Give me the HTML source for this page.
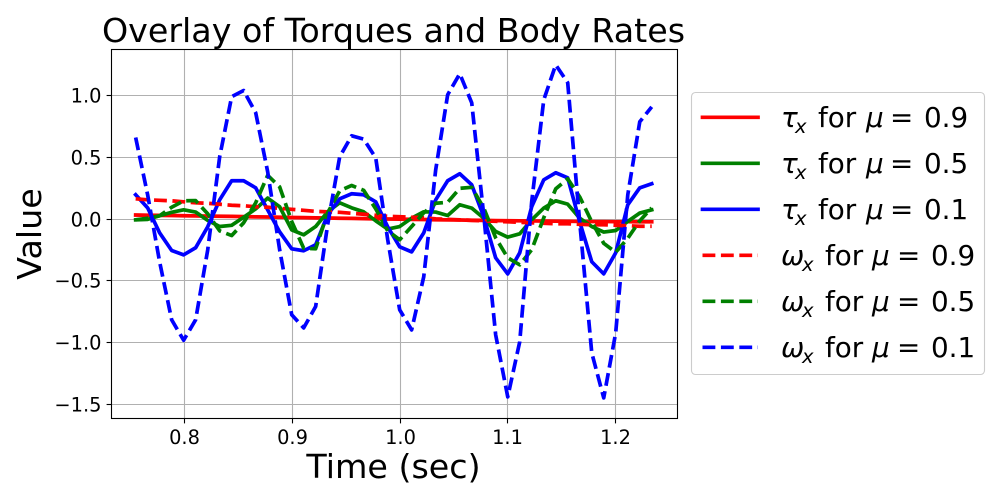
<!DOCTYPE html>
<html lang="en">
<head>
<meta charset="utf-8">
<title>Overlay of Torques and Body Rates</title>
<style>
html,body{margin:0;padding:0;background:#fff;width:1000px;height:500px;overflow:hidden}
svg{display:block}
text{font-family:"DejaVu Sans","Liberation Sans",sans-serif;fill:#000}
</style>
</head>
<body>
<svg id="chart" xmlns="http://www.w3.org/2000/svg" width="1000" height="500" viewBox="0 0 1000 500">
  <defs><clipPath id="plot-clip"><rect x="111.5" y="49.5" width="566" height="369"/></clipPath></defs>
  <rect x="0" y="0" width="1000" height="500" fill="#fff"/>
  <g id="grid"></g>
  <g id="series" clip-path="url(#plot-clip)"></g>
  <rect x="111.5" y="49.5" width="566" height="369" fill="none" stroke="#000" stroke-width="1.1"/>
  <g id="ticks"></g>
  <text x="393.5" y="42" font-size="33.3" text-anchor="middle">Overlay of Torques and Body Rates</text>
  <text x="393.5" y="478" font-size="33.3" text-anchor="middle">Time (sec)</text>
  <text x="0" y="0" font-size="33.3" text-anchor="middle" transform="translate(41 234) rotate(-90)">Value</text>

  <g>
    <rect x="691.5" y="92.5" width="293" height="282" rx="4" ry="4" fill="#fff" fill-opacity="0.8" stroke="#cccccc" stroke-width="1.1"/>

    <g>
      <line x1="702.5" x2="758" y1="117.3" y2="117.3" stroke="#ff0000" stroke-width="3.7" stroke-linecap="square"/>
      <text y="127" font-size="27.8"><tspan x="781" font-style="italic">τ</tspan><tspan x="795" dy="6" font-size="19.5" font-style="italic">x</tspan><tspan x="818" dy="-6">for</tspan><tspan x="866" font-style="italic">μ</tspan><tspan x="890">=</tspan><tspan x="924">0.9</tspan></text>
    </g>
    <g>
      <line x1="702.5" x2="758" y1="163.3" y2="163.3" stroke="#008000" stroke-width="3.7" stroke-linecap="square"/>
      <text y="173" font-size="27.8"><tspan x="781" font-style="italic">τ</tspan><tspan x="795" dy="6" font-size="19.5" font-style="italic">x</tspan><tspan x="818" dy="-6">for</tspan><tspan x="866" font-style="italic">μ</tspan><tspan x="890">=</tspan><tspan x="924">0.5</tspan></text>
    </g>
    <g>
      <line x1="702.5" x2="758" y1="209.3" y2="209.3" stroke="#0000ff" stroke-width="3.7" stroke-linecap="square"/>
      <text y="219" font-size="27.8"><tspan x="781" font-style="italic">τ</tspan><tspan x="795" dy="6" font-size="19.5" font-style="italic">x</tspan><tspan x="818" dy="-6">for</tspan><tspan x="866" font-style="italic">μ</tspan><tspan x="890">=</tspan><tspan x="924">0.1</tspan></text>
    </g>
    <g>
      <line x1="702.5" x2="758" y1="255.3" y2="255.3" stroke="#ff0000" stroke-width="3.7" stroke-dasharray="12.85 5.56"/>
      <text y="265" font-size="27.8"><tspan x="781" font-style="italic">ω</tspan><tspan x="802" dy="6" font-size="19.5" font-style="italic">x</tspan><tspan x="825" dy="-6">for</tspan><tspan x="872" font-style="italic">μ</tspan><tspan x="897">=</tspan><tspan x="931">0.9</tspan></text>
    </g>
    <g>
      <line x1="702.5" x2="758" y1="301.3" y2="301.3" stroke="#008000" stroke-width="3.7" stroke-dasharray="12.85 5.56"/>
      <text y="311" font-size="27.8"><tspan x="781" font-style="italic">ω</tspan><tspan x="802" dy="6" font-size="19.5" font-style="italic">x</tspan><tspan x="825" dy="-6">for</tspan><tspan x="872" font-style="italic">μ</tspan><tspan x="897">=</tspan><tspan x="931">0.5</tspan></text>
    </g>
    <g>
      <line x1="702.5" x2="758" y1="347.3" y2="347.3" stroke="#0000ff" stroke-width="3.7" stroke-dasharray="12.85 5.56"/>
      <text y="357" font-size="27.8"><tspan x="781" font-style="italic">ω</tspan><tspan x="802" dy="6" font-size="19.5" font-style="italic">x</tspan><tspan x="825" dy="-6">for</tspan><tspan x="872" font-style="italic">μ</tspan><tspan x="897">=</tspan><tspan x="931">0.1</tspan></text>
    </g>
  </g>
</svg>
<script>
const timeValues = [0.7549,0.7660,0.7771,0.7883,0.7994,0.8105,0.8217,0.8328,0.8439,0.8550,0.8662,0.8773,0.8884,0.8996,0.9107,0.9218,0.9329,0.9441,0.9552,0.9663,0.9775,0.9886,0.9997,1.0108,1.0220,1.0331,1.0442,1.0554,1.0665,1.0776,1.0887,1.0999,1.1110,1.1221,1.1333,1.1444,1.1555,1.1666,1.1778,1.1889,1.2000,1.2112,1.2223,1.2334];
const tauMu09 = [0.033,0.031,0.03,0.029,0.027,0.026,0.024,0.023,0.022,0.02,0.018,0.017,0.015,0.013,0.012,0.01,0.009,0.007,0.006,0.004,0.002,0.001,0,-0.002,-0.003,-0.005,-0.006,-0.007,-0.009,-0.01,-0.012,-0.013,-0.014,-0.015,-0.016,-0.017,-0.018,-0.019,-0.02,-0.02,-0.021,-0.021,-0.022,-0.022];
const tauMu05 = [-0.006,-0.002,0.027,0.055,0.075,0.057,-0.01,-0.06,-0.05,0.015,0.083,0.17,0.1,-0.087,-0.127,-0.06,0.059,0.132,0.091,0.059,-0.014,-0.081,-0.06,0.008,0.059,0.057,0.029,0.116,0.089,0.008,-0.1,-0.146,-0.119,-0.006,0.089,0.148,0.121,0.008,-0.06,-0.105,-0.092,-0.019,0.049,0.075];
const tauMu01 = [0.197,0.091,-0.111,-0.254,-0.289,-0.232,-0.062,0.156,0.31,0.31,0.253,0.075,-0.103,-0.24,-0.256,-0.208,0.035,0.164,0.205,0.197,0.14,-0.062,-0.224,-0.265,-0.111,0.156,0.31,0.367,0.278,0.019,-0.313,-0.443,-0.273,0.1,0.318,0.375,0.334,-0.022,-0.345,-0.443,-0.273,0.116,0.253,0.286];
const omegaMu09 = [0.164,0.156,0.152,0.148,0.14,0.132,0.128,0.12,0.112,0.108,0.1,0.096,0.087,0.079,0.071,0.063,0.059,0.055,0.047,0.039,0.031,0.023,0.019,0.015,0.011,0.002,-0.002,-0.006,-0.01,-0.014,-0.018,-0.022,-0.026,-0.03,-0.034,-0.038,-0.038,-0.042,-0.046,-0.046,-0.05,-0.054,-0.058,-0.058];
const omegaMu05 = [-0.006,0.007,0.027,0.096,0.148,0.15,0.043,-0.095,-0.133,-0.03,0.132,0.354,0.261,-0.019,-0.236,-0.24,0.051,0.229,0.272,0.233,0.083,-0.095,-0.167,-0.06,0.051,0.128,0.136,0.249,0.257,0.091,-0.151,-0.313,-0.37,-0.248,0.011,0.245,0.326,0.18,-0.022,-0.196,-0.269,-0.155,-0.014,0.091];
const omegaMu01 = [0.66,0.197,-0.345,-0.815,-0.98,-0.815,-0.25,0.504,0.99,1.04,0.86,0.383,-0.248,-0.774,-0.88,-0.707,-0.046,0.504,0.674,0.647,0.496,-0.167,-0.734,-0.896,-0.467,0.399,1.006,1.176,0.941,0.035,-0.936,-1.438,-0.993,0.14,0.965,1.248,1.103,-0.022,-1.082,-1.446,-0.92,0.197,0.787,0.908];
const xTickValues = [0.8,0.9,1.0,1.1,1.2];
const xTickLabels = ["0.8","0.9","1.0","1.1","1.2"];
const yTickValues = [1.0,0.5,0,-0.5,-1.0,-1.5];
const yTickLabels = ["1.0","0.5","0.0","\u22120.5","\u22121.0","\u22121.5"];

const NS = 'http://www.w3.org/2000/svg';
const plotLeft = 111.5, plotRight = 677.5, plotTop = 49.5, plotBottom = 418.5;
const xDomain = [0.7325, 1.2573];
const yDomain = [-1.613, 1.372];
function xScale(v){ return plotLeft + (v - xDomain[0]) / (xDomain[1] - xDomain[0]) * (plotRight - plotLeft); }
function yScale(v){ return plotBottom - (v - yDomain[0]) / (yDomain[1] - yDomain[0]) * (plotBottom - plotTop); }
function snap(p){ return Math.floor(p) + 0.5; }

const gridLayer = document.getElementById('grid');
const tickLayer = document.getElementById('ticks');
const seriesLayer = document.getElementById('series');

xTickValues.forEach(function(v, i){
  const px = snap(xScale(v));
  const g = document.createElementNS(NS, 'line');
  
  
  g.setAttribute('x1', px); g.setAttribute('x2', px);
  g.setAttribute('y1', plotTop); g.setAttribute('y2', plotBottom);
  g.setAttribute('stroke', '#b0b0b0'); g.setAttribute('stroke-width', '1.1');
  gridLayer.appendChild(g);
  const t = document.createElementNS(NS, 'line');
  
  
  t.setAttribute('x1', px); t.setAttribute('x2', px);
  t.setAttribute('y1', plotBottom); t.setAttribute('y2', plotBottom + 4.9);
  t.setAttribute('stroke', '#000'); t.setAttribute('stroke-width', '1.1');
  tickLayer.appendChild(t);
  const l = document.createElementNS(NS, 'text');
  
  
  l.setAttribute('x', px); l.setAttribute('y', 444);
  l.setAttribute('font-size', '19.4'); l.setAttribute('text-anchor', 'middle');
  l.textContent = xTickLabels[i];
  tickLayer.appendChild(l);
});

yTickValues.forEach(function(v, i){
  const py = snap(yScale(v));
  const g = document.createElementNS(NS, 'line');
  
  
  g.setAttribute('x1', plotLeft); g.setAttribute('x2', plotRight);
  g.setAttribute('y1', py); g.setAttribute('y2', py);
  g.setAttribute('stroke', '#b0b0b0'); g.setAttribute('stroke-width', '1.1');
  gridLayer.appendChild(g);
  const t = document.createElementNS(NS, 'line');
  
  
  t.setAttribute('x1', plotLeft - 4.9); t.setAttribute('x2', plotLeft);
  t.setAttribute('y1', py); t.setAttribute('y2', py);
  t.setAttribute('stroke', '#000'); t.setAttribute('stroke-width', '1.1');
  tickLayer.appendChild(t);
  const l = document.createElementNS(NS, 'text');
  
  
  l.setAttribute('x', 101.5); l.setAttribute('y', py + 7);
  l.setAttribute('font-size', '19.4'); l.setAttribute('text-anchor', 'end');
  l.textContent = yTickLabels[i];
  tickLayer.appendChild(l);
});

function drawSeries(values, color, dashed, seriesName){
  const d = values.map(function(v, i){
    return (i ? 'L' : 'M') + xScale(timeValues[i]).toFixed(2) + ' ' + yScale(v).toFixed(2);
  }).join(' ');
  const p = document.createElementNS(NS, 'path');
  
  
  p.setAttribute('d', d);
  p.setAttribute('fill', 'none');
  p.setAttribute('stroke', color);
  p.setAttribute('stroke-width', '3.7');
  p.setAttribute('stroke-linejoin', 'round');
  p.setAttribute('stroke-linecap', dashed ? 'butt' : 'square');
  if (dashed) p.setAttribute('stroke-dasharray', '12.85 5.56');
  seriesLayer.appendChild(p);
}
drawSeries(tauMu09, '#ff0000', false, 'line-tau-mu-0.9');
drawSeries(tauMu05, '#008000', false, 'line-tau-mu-0.5');
drawSeries(tauMu01, '#0000ff', false, 'line-tau-mu-0.1');
drawSeries(omegaMu09, '#ff0000', true, 'line-omega-mu-0.9');
drawSeries(omegaMu05, '#008000', true, 'line-omega-mu-0.5');
drawSeries(omegaMu01, '#0000ff', true, 'line-omega-mu-0.1');
</script>
</body>
</html>
